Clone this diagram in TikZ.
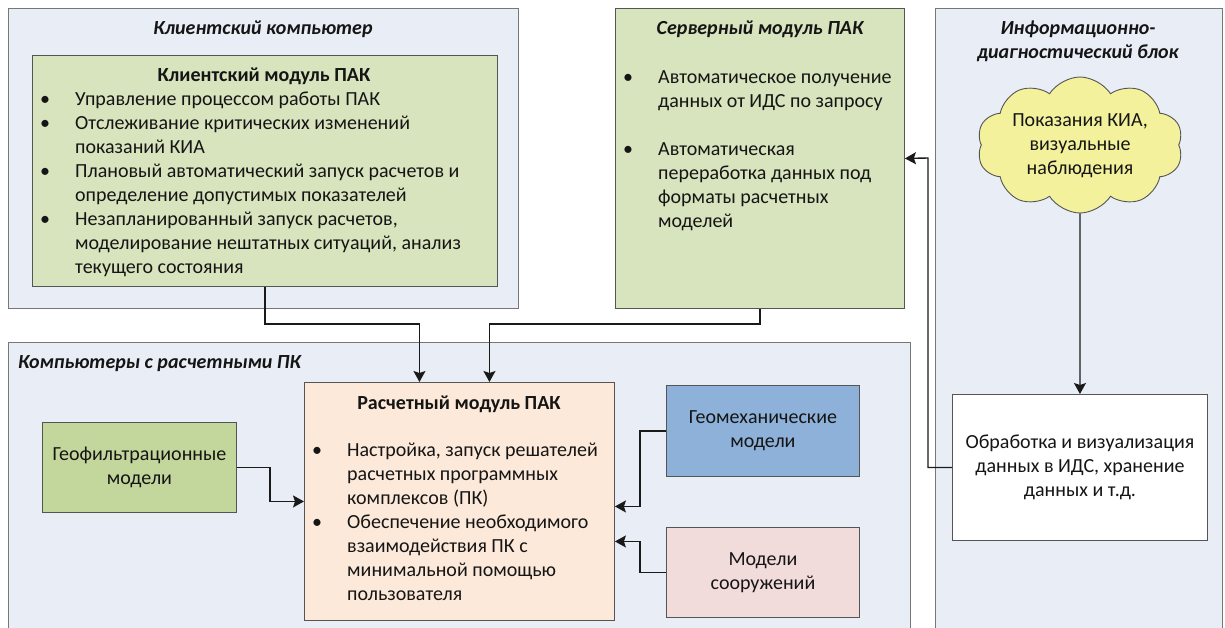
\documentclass[tikz,border=0pt]{standalone}
\usepackage{fontspec}
\setmainfont{Carlito}
\usetikzlibrary{shapes.symbols,arrows.meta}
\definecolor{outerbg}{HTML}{E9EEF6}
\definecolor{boxline}{HTML}{555555}
\definecolor{greenA}{HTML}{D7E4BD}
\definecolor{greenB}{HTML}{C3D69B}
\definecolor{blueA}{HTML}{8EB1DA}
\definecolor{peach}{HTML}{FCE9DA}
\definecolor{pinkA}{HTML}{F2DCDB}
\definecolor{cloudc}{HTML}{F4F19C}
\definecolor{textc}{HTML}{151515}
\definecolor{linec}{HTML}{1A1A1A}
\tikzset{
  pbox/.style={draw=boxline, line width=0.9pt, inner sep=0pt, anchor=north west},
  obox/.style={pbox, fill=outerbg, draw=boxline!80},
  txt/.style={inner sep=0pt, text=textc, font=\fontsize{20}{24}\selectfont},
  ttl/.style={txt, font=\fontsize{20}{24}\selectfont\bfseries\itshape},
  btl/.style={txt, font=\fontsize{20}{24}\selectfont\bfseries},
  ctext/.style={txt, align=center},
  conn/.style={draw=linec, line width=1.4pt, -{Stealth[length=11pt,width=12pt,inset=2pt]}}
}
\begin{document}
\begin{tikzpicture}[x=1pt,y=-1pt]
\useasboundingbox (0,0) rectangle (1225,627);
\clip (0,0) rectangle (1225,627);
\fill[white] (0,0) rectangle (1225,627);

% outer containers
\node[obox, minimum width=510pt, minimum height=300pt] (cc) at (8,8) {};
\node[obox, minimum width=287pt, minimum height=640pt] (idb) at (935,8) {};
\node[obox, minimum width=902pt, minimum height=300pt] (comp) at (8,342) {};

% client module
\node[pbox, fill=greenA, minimum width=465pt, minimum height=231pt] (cm) at (32,55) {};
% server module
\node[pbox, fill=greenA, minimum width=289pt, minimum height=300pt] (sm) at (615,8) {};
% calc module
\node[pbox, fill=peach, minimum width=310pt, minimum height=238pt] (calc) at (304,382) {};
% models
\node[pbox, fill=greenB, minimum width=194pt, minimum height=90pt] (geof) at (42,422) {};
\node[pbox, fill=blueA, minimum width=193pt, minimum height=91pt] (geom) at (666,385) {};
\node[pbox, fill=pinkA, minimum width=193pt, minimum height=90pt] (stru) at (666,527) {};
% IDS processing box
\node[pbox, fill=white, minimum width=255pt, minimum height=146pt] (wb) at (952,394) {};

% titles
\node[ttl, anchor=base] (cct) at (263,34) {Клиентский компьютер};
\node[ttl, anchor=base] (smt) at (760,34) {Серверный модуль ПАК};
\node[ttl, anchor=base] (idbt1) at (1078,34) {Информационно-};
\node[ttl, anchor=base] (idbt2) at (1078,58) {диагностический блок};
\node[ttl, anchor=base west] (compt) at (18,368) {Компьютеры с расчетными ПК};
\node[btl, anchor=base] (cmt) at (264,81) {Клиентский модуль ПАК};
\node[btl, anchor=base] (calct) at (459,409) {Расчетный модуль ПАК};

% lists
\node[txt, anchor=base west] (cml) at (40,105) {\begin{tabular}[t]{@{}p{35pt}@{}l@{}}
• & Управление процессом работы ПАК\\
• & Отслеживание критических изменений\\
  & показаний КИА\\
• & Плановый автоматический запуск расчетов и\\
  & определение допустимых показателей\\
• & Незапланированный запуск расчетов,\\
  & моделирование нештатных ситуаций, анализ\\
  & текущего состояния
\end{tabular}};
\node[txt, anchor=base west] (sml) at (623,83) {\begin{tabular}[t]{@{}p{35pt}@{}l@{}}
• & Автоматическое получение\\
  & данных от ИДС по запросу\\
  & \\
• & Автоматическая\\
  & переработка данных под\\
  & форматы расчетных\\
  & моделей
\end{tabular}};
\node[txt, anchor=base west] (calcl) at (312,456) {\begin{tabular}[t]{@{}p{35pt}@{}l@{}}
• & Настройка, запуск решателей\\
  & расчетных программных\\
  & комплексов (ПК)\\
• & Обеспечение необходимого\\
  & взаимодействия ПК с\\
  & минимальной помощью\\
  & пользователя
\end{tabular}};

% box texts
\node[ctext] (geoft) at (geof.center) {Геофильтрационные\\модели};
\node[ctext] (geomt) at (geom.center) {Геомеханические\\модели};
\node[ctext] (strut) at (stru.center) {Модели\\сооружений};
\node[ctext] (wbt) at (wb.center) {Обработка и визуализация\\данных в ИДС, хранение\\данных и т.д.};

% cloud
\node[cloud, cloud puffs=10, cloud puff arc=115, aspect=1.55, draw=boxline, line width=0.9pt,
      fill=cloudc, minimum width=206pt, minimum height=136pt, inner sep=0pt] (cloud) at (1080,145) {};
\node[ctext] (cloudt) at (1080,146) {Показания КИА,\\визуальные\\наблюдения};

% connectors
\draw[conn] (cm.south) -- (cm.south |- 0,324) -| ([xshift=-40pt]calc.north);
\draw[conn] (sm.south) -- (sm.south |- 0,324) -| ([xshift=30pt]calc.north);
\draw[conn] (wb.west) -| (928,158) -- (sm.east);
\draw[conn] (cloud.south) -- (wb.north);
\draw[conn] (geof.east) -- ++(33,0) |- (calc.west);
\draw[conn] (geom.west) -- ++(-26,0) |- ([yshift=-5pt]calc.east);
\draw[conn] (stru.west) -- ++(-26,0) |- ([yshift=-40pt]calc.east);
\end{tikzpicture}
\end{document}
